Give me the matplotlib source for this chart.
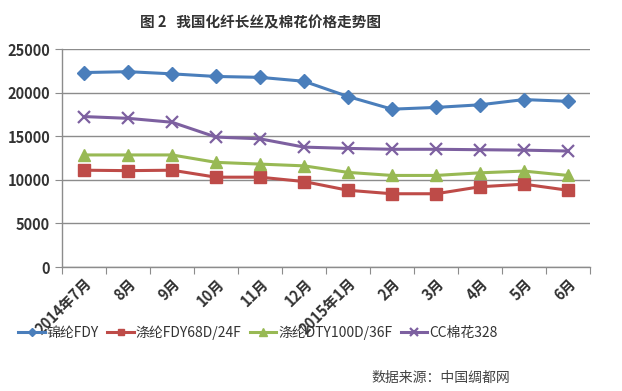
import matplotlib
matplotlib.use("Agg")
import matplotlib.pyplot as plt
from matplotlib.ticker import MultipleLocator, FixedLocator

plt.rcParams['font.family'] = ['Noto Sans CJK SC', 'DejaVu Sans']

categories = ["2014年7月", "8月", "9月", "10月", "11月", "12月", "2015年1月",
              "2月", "3月", "4月", "5月", "6月"]
nylon_fdy = [22300, 22400, 22150, 21850, 21750, 21300, 19550, 18100, 18300, 18600, 19200, 19000]
polyester_fdy = [11100, 11050, 11100, 10300, 10300, 9800, 8800, 8400, 8400, 9200, 9500, 8800]
polyester_dty = [12850, 12850, 12850, 12000, 11800, 11600, 10850, 10500, 10500, 10800, 11000, 10500]
cotton_cc328 = [17250, 17050, 16600, 14900, 14700, 13750, 13600, 13500, 13500, 13450, 13400, 13300]
series_names = ["锦纶FDY", "涤纶FDY68D/24F", "涤纶DTY100D/36F", "CC棉花328"]

fig = plt.figure(figsize=(6.22, 3.91), dpi=100)
ax = fig.add_axes([62/622, 1-267/391, (590-62)/622, (267-49)/391])

x = list(range(len(categories)))
ax.plot(x, nylon_fdy, color='#4A7EBB', lw=2.2, marker='D', ms=7, label=series_names[0])
ax.plot(x, polyester_fdy, color='#BE4B48', lw=2.2, marker='s', ms=8, label=series_names[1])
ax.plot(x, polyester_dty, color='#98B954', lw=2.2, marker='^', ms=9, label=series_names[2])
ax.plot(x, cotton_cc328, color='#7D60A0', lw=2.2, marker='x', ms=9, mew=1.6, label=series_names[3])

ax.set_xlim(-0.5, len(categories) - 0.5)
ax.set_ylim(0, 25000)
ax.yaxis.set_major_locator(MultipleLocator(5000))
ax.grid(axis='y', color='#8c8c8c', lw=1)
ax.set_axisbelow(True)
for s in ['top', 'right']:
    ax.spines[s].set_visible(False)
for s in ['left', 'bottom']:
    ax.spines[s].set_color('#8c8c8c')
    ax.spines[s].set_linewidth(1)

ax.xaxis.set_major_locator(FixedLocator([i - 0.5 for i in range(len(categories) + 1)]))
ax.tick_params(axis='x', which='major', length=5, color='#8c8c8c', labelbottom=False)
ax.set_xticks(x, minor=True)
ax.set_xticklabels(categories, minor=True, rotation=45, ha='right', va='top',
                   rotation_mode='anchor', fontsize=10.5, fontweight='bold', color='#333333')
ax.tick_params(axis='x', which='minor', length=0, pad=6)
ax.tick_params(axis='y', length=5, color='#8c8c8c', labelsize=10.5, labelcolor='#333333')
for lab in ax.get_yticklabels():
    lab.set_fontweight('bold')

fig.text(260/622, 1-22/391, "图 2   我国化纤长丝及棉花价格走势图", ha='center', va='center',
         fontsize=10.5, fontweight='bold', color='#333333')

leg = fig.legend(loc='center', bbox_to_anchor=(258/622, 1-333/391), ncol=4, frameon=False,
                 handlelength=1.9, columnspacing=0.6, handletextpad=0.15, markerscale=0.6,
                 prop={'size': 10})
for t in leg.get_texts():
    t.set_color('#333333')

fig.text(510/622, 1-378/391, "数据来源：中国绸都网", ha='right', va='center',
         fontsize=10, color='#444444')

fig.savefig("out.png", dpi=100)
